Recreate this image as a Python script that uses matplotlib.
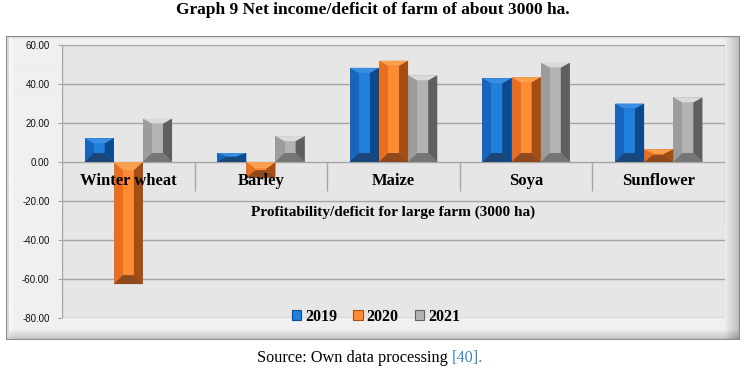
import numpy as np
import matplotlib
matplotlib.use("Agg")
import matplotlib.pyplot as plt
from matplotlib.patches import Polygon, Patch, Rectangle

# data
crops = ["Winter wheat", "Barley", "Maize", "Soya", "Sunflower"]
years = ["2019", "2020", "2021"]
val_2019 = [12.2, 4.6, 48.3, 43.0, 30.0]
val_2020 = [-62.6, -8.0, 52.0, 43.5, 6.5]
val_2021 = [22.3, 13.3, 44.5, 51.0, 33.2]
y_ticks = [60, 40, 20, 0, -20, -40, -60, -80]

# bevel colours: left, centre, right, bottom, top
shades = {
    "2019": ["#1765be", "#2080dc", "#0d4a8c", "#1a4679", "#3a8ee2"],
    "2020": ["#e86e22", "#ff8c32", "#a44e15", "#8e4a1c", "#f8a050"],
    "2021": ["#9c9c9c", "#b3b3b3", "#5f5f5f", "#767676", "#dadada"],
}

W, H = 745, 372
fig = plt.figure(figsize=(7.45, 3.72), dpi=100)


def fx(px):
    return px / W


def fy(py):
    return 1 - py / H


# chart frame with a bevel
bg = fig.add_axes([fx(6), fy(340), fx(734), 304 / H], zorder=0)
bg.set_axis_off()
hh, ww = 304, 734
img = np.full((hh, ww), 0.94)
xx = np.arange(ww)
yy = np.arange(hh)
right = np.clip((xx - (ww - 16)) / 16, 0, 1)
left = np.clip((8 - xx) / 8, 0, 1)
bottom = np.clip((yy - (hh - 11)) / 11, 0, 1)
top = np.clip((4 - yy) / 4, 0, 1)
img = img - 0.22 * right[None, :] - 0.2 * bottom[:, None] + 0.05 * left[None, :] - 0.1 * top[:, None]
img[:, :3] = np.minimum(img[:, :3], 0.85)
bg.imshow(np.clip(img, 0, 1), cmap="gray", vmin=0, vmax=1, aspect="auto",
          extent=[0, 1, 0, 1])
bg.add_patch(Rectangle((0, 0), 1, 1, transform=bg.transAxes, fill=False,
                       edgecolor="#8a8a8a", lw=1.5))

ax = fig.add_axes([fx(62), fy(318), fx(725 - 62), (318 - 45) / H], zorder=1)
ax.set_facecolor("#e6e6e6")
ax.set_xlim(-0.5, 4.5)
ax.set_ylim(-80, 60)
for s in ax.spines.values():
    s.set_visible(False)

for t in y_ticks:
    ax.axhline(t, color="#a5a5a5", lw=1.0, zorder=1)
ax.axvline(-0.5, color="#a5a5a5", lw=1.0, zorder=1)
ax.vlines([0.5, 1.5, 2.5, 3.5], -15, 0, color="#a5a5a5", lw=1.0, zorder=1)
ax.vlines([4.5], -31, 60, color="#a5a5a5", lw=1.0, zorder=1)

ax.set_yticks(y_ticks)
ax.set_yticklabels([f"{v:.2f}" for v in y_ticks], fontsize=7,
                   family="Liberation Sans", color="#111111")
ax.tick_params(axis="y", length=3, color="#a5a5a5", pad=6)
ax.set_xticks([])

bw = 0.22
dx = 0.068
d_bot = 4.6
d_top = 2.6
x = np.arange(len(crops))
for j, (yr, vals) in enumerate(zip(years, [val_2019, val_2020, val_2021])):
    c = shades[yr]
    bars = ax.bar(x + (j - 1) * bw, vals, bw, color=c[0], lw=0, zorder=3)
    for b in bars:
        x0, x1 = b.get_x(), b.get_x() + b.get_width()
        y0 = min(b.get_y(), b.get_y() + b.get_height())
        y1 = max(b.get_y(), b.get_y() + b.get_height())
        h = y1 - y0
        k = min(1.0, 0.9 * h / (d_bot + d_top))
        db, dt = d_bot * k, d_top * k
        if b.get_height() < 0:
            db, dt = d_bot * k, d_bot * k * 0.9
            k2 = min(1.0, 0.9 * h / (db + dt))
            db, dt = db * k2, dt * k2
        faces = [
            ([(x0 + dx, y0 + db), (x1 - dx, y0 + db), (x1 - dx, y1 - dt), (x0 + dx, y1 - dt)], c[1]),
            ([(x1, y0), (x1, y1), (x1 - dx, y1 - dt), (x1 - dx, y0 + db)], c[2]),
            ([(x0, y0), (x1, y0), (x1 - dx, y0 + db), (x0 + dx, y0 + db)], c[3]),
            ([(x0, y1), (x1, y1), (x1 - dx, y1 - dt), (x0 + dx, y1 - dt)], c[4]),
        ]
        for pts, col in faces:
            ax.add_patch(Polygon(pts, closed=True, facecolor=col, lw=0, zorder=4))

for i, name in enumerate(crops):
    ax.text(i, -9.7, name, ha="center", va="center", fontsize=12,
            fontweight="bold", family="Liberation Serif", zorder=5)
ax.text(2, -25.8, "Profitability/deficit for large farm (3000 ha)", ha="center",
        va="center", fontsize=11, fontweight="bold", family="Liberation Serif", zorder=5)

handles = [Patch(facecolor=shades[yr][1], edgecolor=shades[yr][2], lw=0.8) for yr in years]
fig.legend(handles, years, loc="center", bbox_to_anchor=(fx(376), fy(317)), ncol=3,
           frameon=False, handlelength=0.6, handleheight=0.6, handletextpad=0.25,
           columnspacing=1.0, prop={"family": "Liberation Serif", "weight": "bold", "size": 11.5})

fig.text(0.5, fy(10), "Graph 9 Net income/deficit of farm of about 3000 ha.", ha="center",
         va="center", fontsize=12.5, fontweight="bold", family="Liberation Serif")

src1 = fig.text(fx(257), fy(358), "Source: Own data processing ", ha="left", va="center",
                fontsize=11.7, family="Liberation Serif")
r = fig.canvas.get_renderer()
bb = src1.get_window_extent(renderer=r)
fig.text(bb.x1 / fig.dpi / 7.45, fy(358), "[40].", ha="left", va="center",
         fontsize=11.7, family="Liberation Serif", color="#3a87c8")

fig.savefig("out.png", dpi=100)
